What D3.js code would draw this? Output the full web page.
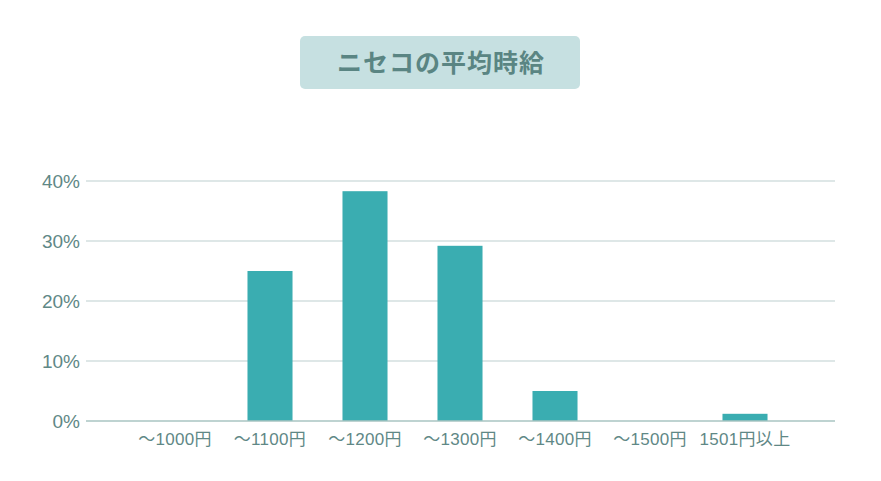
<!DOCTYPE html>
<html>
<head>
<meta charset="utf-8">
<script src="https://cdn.jsdelivr.net/npm/d3@7"></script>
<style>
  body { margin: 0; background: #fff; }
  svg text { font-family: "Liberation Sans", "Noto Sans CJK JP", sans-serif; }
</style>
</head>
<body>
<div id="chart-container"></div>
<script>
const chartTitle = "ニセコの平均時給";
const categories = ["～1000円", "～1100円", "～1200円", "～1300円", "～1400円", "～1500円", "1501円以上"];
const shares = [0, 25, 38.3, 29.2, 5, 0, 1.2];
const yTicks = [0, 10, 20, 30, 40];

function renderChart() {
    const width = 881, height = 481;
    const svg = d3.select("#chart-container").append("svg")
        .attr("width", width)
        .attr("height", height);

    // Title box
    svg.append("rect")
        .attr("x", 300).attr("y", 36)
        .attr("width", 280).attr("height", 53)
        .attr("rx", 5)
        .attr("fill", "#c6e0e1");
    svg.append("text")
        .attr("x", 441).attr("y", 63)
        .attr("text-anchor", "middle")
        .attr("dominant-baseline", "central")
        .attr("font-family", "'Noto Sans CJK JP', sans-serif")
        .attr("font-size", 25)
        .attr("font-weight", "bold")
        .attr("letter-spacing", 1)
        .attr("fill", "#5a8583")
        .text(chartTitle);

    const x = d3.scaleBand()
        .domain(categories)
        .range([127.5, 792.5])
        .paddingInner(0.526)
        .paddingOuter(0.263);

    const y = d3.scaleLinear()
        .domain([0, 40])
        .range([421, 181]);

    // Grid
    svg.append("g")
        .selectAll("line")
        .data(yTicks.filter(d => d > 0))
        .join("line")
        .attr("x1", 86).attr("x2", 835)
        .attr("y1", d => y(d)).attr("y2", d => y(d))
        .attr("stroke", "#d3dfdf")
        .attr("stroke-width", 1.5);

    // Y labels
    svg.append("g")
        .selectAll("text")
        .data(yTicks)
        .join("text")
        .attr("x", 80)
        .attr("y", d => y(d))
        .attr("text-anchor", "end")
        .attr("dominant-baseline", "central")
        .attr("font-size", 19)
        .attr("fill", "#5f8886")
        .text(d => d + "%");

    // Bars
    svg.append("g")
        .selectAll("rect")
        .data(shares)
        .join("rect")
        .attr("x", (d, i) => x(categories[i]))
        .attr("y", d => y(d))
        .attr("width", x.bandwidth())
        .attr("height", d => y(0) - y(d))
        .attr("fill", "#3aadb1");

    // Baseline
    svg.append("line")
        .attr("x1", 86).attr("x2", 835)
        .attr("y1", y(0)).attr("y2", y(0))
        .attr("stroke", "#a8c4c2")
        .attr("stroke-width", 1.5);

    // X labels
    svg.append("g")
        .selectAll("text")
        .data(categories)
        .join("text")
        .attr("x", d => x(d) + x.bandwidth() / 2)
        .attr("y", 439)
        .attr("text-anchor", "middle")
        .attr("dominant-baseline", "central")
        .attr("font-size", 17)
        .attr("letter-spacing", 0.3)
        .attr("fill", "#5f8886")
        .text(d => d);
}

renderChart();
</script>
</body>
</html>
